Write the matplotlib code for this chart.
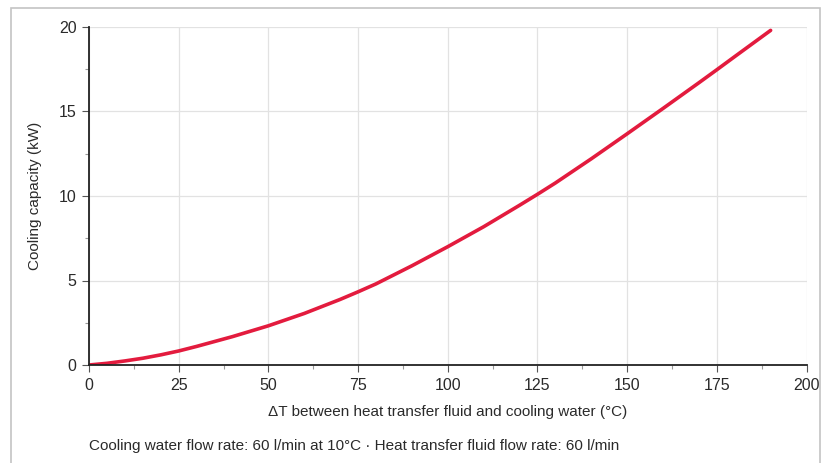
import matplotlib
matplotlib.use("Agg")
import matplotlib.pyplot as plt
from matplotlib.patches import Rectangle
from matplotlib.ticker import MultipleLocator

plt.rcParams['font.family'] = ['Liberation Sans', 'DejaVu Sans']

delta_t = [0, 5, 10, 15, 20, 25, 30, 40, 50, 60, 70, 75, 80, 90, 100, 110, 120,
           125, 130, 140, 150, 160, 170, 175, 180, 190]
capacity = [0, 0.1, 0.24, 0.4, 0.6, 0.83, 1.1, 1.68, 2.32, 3.05, 3.88, 4.33,
            4.8, 5.87, 7.0, 8.18, 9.45, 10.1, 10.77, 12.2, 13.68, 15.18, 16.7,
            17.47, 18.25, 19.8]

x_label = "ΔT between heat transfer fluid and cooling water (°C)"
y_label = "Cooling capacity (kW)"
footer = "Cooling water flow rate: 60 l/min at 10°C · Heat transfer fluid flow rate: 60 l/min"

W, H = 833, 463
fig = plt.figure(figsize=(W / 100, H / 100), dpi=100)

# outer frame
fig.patches.append(Rectangle((11 / W, -0.05), (820 - 11) / W, 1.05 - 8 / H,
                             transform=fig.transFigure, fill=False,
                             edgecolor='#c4c4c4', linewidth=1.2))

ax = fig.add_axes([89 / W, 1 - 365 / H, (806.5 - 89) / W, (365 - 27) / H])
ax.plot(delta_t, capacity, color='#e31b3e', linewidth=2.6,
        solid_capstyle='round', solid_joinstyle='round')

ax.set_xlim(0, 200)
ax.set_ylim(0, 20)
ax.xaxis.set_major_locator(MultipleLocator(25))
ax.xaxis.set_minor_locator(MultipleLocator(12.5))
ax.yaxis.set_major_locator(MultipleLocator(5))
ax.yaxis.set_minor_locator(MultipleLocator(2.5))

ax.grid(True, which='major', color='#e2e2e2', linewidth=0.9)
ax.set_axisbelow(True)
for s in ['top', 'right']:
    ax.spines[s].set_visible(False)
for s in ['left', 'bottom']:
    ax.spines[s].set_color('#222222')
    ax.spines[s].set_linewidth(1.3)

ax.tick_params(which='major', length=5, width=0.8, color='#555555',
               labelsize=11.5, labelcolor='#2a2a2a', pad=4)
ax.tick_params(which='minor', length=3, width=0.8, color='#999999')

ax.set_xlabel(x_label, fontsize=11, color='#2a2a2a')
ax.set_ylabel(y_label, fontsize=11, color='#2a2a2a')
ax.yaxis.set_label_coords(-54 / (806.5 - 89), (365 - 196) / (365 - 27))
ax.xaxis.set_label_coords((448 - 89) / (806.5 - 89), -(412 - 365) / (365 - 27))
ax.xaxis.label.set_va('center')
ax.yaxis.label.set_va('center')

fig.text(89 / W, 1 - 446 / H, footer, fontsize=11, color='#2a2a2a',
         ha='left', va='center')

fig.savefig('out.png', dpi=100)
